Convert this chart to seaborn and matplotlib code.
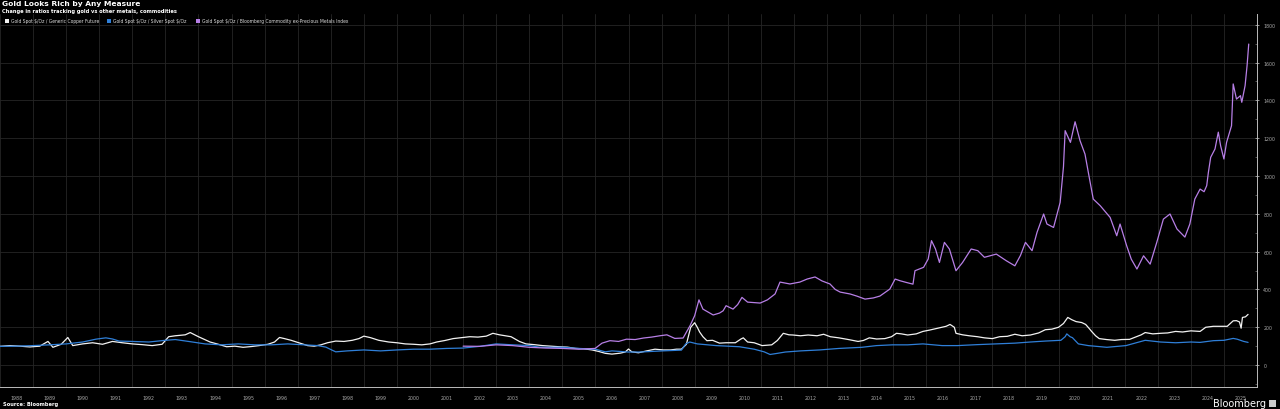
import numpy as np
import pandas as pd
import matplotlib
matplotlib.use("Agg")
import matplotlib.pyplot as plt
from matplotlib.ticker import FixedLocator, NullFormatter, FixedFormatter
import seaborn as sns

# ---------------- data (fractional years, index values) ----------------
copper_years = [1988.0, 1988.3, 1988.6, 1988.9, 1989.2, 1989.45, 1989.6, 1989.85, 1990.05, 1990.2,
                1990.5, 1990.8, 1991.1, 1991.4, 1991.7, 1992.0, 1992.3, 1992.6, 1992.9, 1993.1,
                1993.3, 1993.6, 1993.75, 1994.0, 1994.35, 1994.6, 1994.85, 1995.1, 1995.35, 1995.6,
                1995.83, 1996.1, 1996.3, 1996.45, 1996.6, 1996.8, 1997.0, 1997.3, 1997.5, 1997.7,
                1997.9, 1998.15, 1998.4, 1998.65, 1998.85, 1999.0, 1999.2, 1999.45, 1999.75, 2000.0,
                2000.25, 2000.5, 2000.75, 2001.0, 2001.2, 2001.45, 2001.7, 2001.95, 2002.2, 2002.45,
                2002.7, 2002.9, 2003.1, 2003.45, 2003.7, 2003.9, 2004.15, 2004.4, 2004.65, 2004.9,
                2005.15, 2005.4, 2005.65, 2005.9, 2006.1, 2006.3, 2006.5, 2006.75, 2006.9, 2007.0,
                2007.1, 2007.3, 2007.55, 2007.8, 2008.05, 2008.27, 2008.45, 2008.6, 2008.75, 2008.88,
                2009.0, 2009.08, 2009.15, 2009.25, 2009.37, 2009.54, 2009.75, 2009.95, 2010.23, 2010.4,
                2010.47, 2010.6, 2010.8, 2011.04, 2011.33, 2011.5, 2011.68, 2011.85, 2011.97, 2012.2,
                2012.43, 2012.7, 2012.9, 2013.1, 2013.36, 2013.65, 2013.94, 2014.1, 2014.28, 2014.5,
                2014.75, 2014.95, 2015.1, 2015.25, 2015.44, 2015.7, 2015.9, 2016.1, 2016.37, 2016.6,
                2016.72, 2016.85, 2016.9, 2017.1, 2017.3, 2017.55, 2017.76, 2018.0, 2018.22, 2018.45,
                2018.68, 2018.9, 2019.15, 2019.4, 2019.6, 2019.8, 2020.0, 2020.15, 2020.28, 2020.4,
                2020.53, 2020.7, 2020.82, 2020.92, 2021.0, 2021.12, 2021.23, 2021.45, 2021.7, 2021.9,
                2022.15, 2022.35, 2022.5, 2022.62, 2022.85, 2023.08, 2023.3, 2023.54, 2023.75, 2024.0,
                2024.28, 2024.45, 2024.68, 2024.9, 2025.1, 2025.28, 2025.38, 2025.47, 2025.52, 2025.56,
                2025.65, 2025.73]
copper_vals = [99, 103, 100, 96, 100, 125, 94, 110, 146, 103,
               112, 118, 110, 125, 118, 112, 108, 103, 110, 150,
               155, 160, 172, 150, 122, 110, 97, 100, 94, 98,
               103, 110, 122, 146, 140, 131, 120, 103, 100, 107,
               118, 127, 125, 131, 140, 153, 145, 131, 122, 118,
               112, 110, 107, 112, 122, 130, 140, 145, 150, 148,
               153, 168, 160, 150, 125, 112, 108, 103, 100, 97,
               95, 88, 86, 80, 72, 62, 58, 63, 69, 85,
               70, 65, 75, 84, 80, 80, 84, 84, 110, 200,
               224, 200, 175, 150, 129, 131, 116, 118, 118, 138,
               144, 122, 118, 103, 107, 130, 168, 160, 159, 155,
               159, 155, 163, 150, 144, 135, 125, 130, 144, 138,
               140, 150, 168, 165, 159, 165, 178, 185, 196, 205,
               215, 200, 168, 160, 155, 150, 144, 140, 150, 152,
               163, 155, 159, 170, 187, 190, 200, 220, 252, 240,
               230, 225, 215, 195, 178, 155, 140, 135, 131, 135,
               136, 150, 160, 172, 165, 168, 170, 178, 175, 181,
               178, 200, 205, 205, 205, 234, 235, 228, 195, 252,
               255, 268]

silver_years = [1988.0, 1988.5, 1989.0, 1989.5, 1990.0, 1990.5, 1990.9, 1991.2, 1991.4, 1991.6,
                1992.0, 1992.5, 1993.0, 1993.3, 1993.7, 1994.2, 1994.7, 1995.2, 1995.7, 1996.2,
                1996.7, 1997.2, 1997.6, 1997.85, 1998.05, 1998.15, 1998.5, 1999.0, 1999.5, 2000.0,
                2000.5, 2001.0, 2001.5, 2002.0, 2002.5, 2003.0, 2003.5, 2004.0, 2004.3, 2004.5,
                2005.0, 2005.5, 2006.0, 2006.3, 2006.5, 2007.0, 2007.34, 2008.03, 2008.6, 2008.73,
                2008.85, 2009.08, 2009.65, 2010.35, 2010.8, 2011.1, 2011.28, 2011.5, 2011.74, 2012.2,
                2012.78, 2013.36, 2014.05, 2014.5, 2014.98, 2015.44, 2015.9, 2016.48, 2016.95, 2017.53,
                2018.1, 2018.68, 2019.15, 2019.6, 2020.07, 2020.2, 2020.25, 2020.35, 2020.42, 2020.6,
                2020.9, 2021.46, 2022.04, 2022.62, 2023.08, 2023.54, 2024.0, 2024.28, 2024.68, 2025.0,
                2025.28, 2025.4, 2025.6, 2025.73]
silver_vals = [99, 100, 103, 107, 112, 122, 137, 144, 138, 127,
               125, 122, 131, 135, 125, 112, 107, 112, 107, 107,
               112, 107, 103, 95, 78, 70, 75, 80, 75, 80,
               84, 84, 88, 90, 99, 112, 107, 103, 95, 94,
               94, 88, 84, 70, 75, 69, 69, 75, 79, 112,
               122, 112, 103, 97, 84, 70, 56, 62, 69, 75,
               80, 88, 94, 103, 107, 107, 112, 103, 103, 108,
               112, 116, 122, 127, 131, 150, 165, 150, 145, 112,
               103, 94, 103, 131, 122, 118, 122, 120, 129, 131,
               141, 137, 125, 120]

bcom_years = [2002.0, 2002.5, 2003.0, 2003.5, 2004.0, 2004.5, 2005.0, 2005.5, 2005.99, 2006.2,
              2006.44, 2006.7, 2006.94, 2007.2, 2007.45, 2007.7, 2007.95, 2008.16, 2008.4, 2008.65,
              2008.86, 2009.0, 2009.13, 2009.25, 2009.56, 2009.75, 2009.86, 2009.95, 2010.16, 2010.3,
              2010.43, 2010.6, 2010.98, 2011.2, 2011.43, 2011.58, 2011.88, 2012.18, 2012.4, 2012.64,
              2012.85, 2013.09, 2013.25, 2013.4, 2013.7, 2013.9, 2014.15, 2014.4, 2014.6, 2014.9,
              2015.06, 2015.21, 2015.4, 2015.6, 2015.66, 2015.92, 2016.06, 2016.16, 2016.28, 2016.4,
              2016.55, 2016.7, 2016.9, 2017.1, 2017.36, 2017.56, 2017.76, 2018.12, 2018.42, 2018.68,
              2018.85, 2019.0, 2019.2, 2019.35, 2019.55, 2019.65, 2019.85, 2020.05, 2020.15, 2020.2,
              2020.36, 2020.5, 2020.65, 2020.8, 2020.9, 2021.05, 2021.26, 2021.56, 2021.76, 2021.86,
              2022.06, 2022.2, 2022.37, 2022.57, 2022.77, 2022.97, 2023.17, 2023.37, 2023.58, 2023.82,
              2023.97, 2024.12, 2024.28, 2024.4, 2024.48, 2024.53, 2024.6, 2024.73, 2024.83, 2024.9,
              2025.0, 2025.08, 2025.23, 2025.28, 2025.38, 2025.5, 2025.54, 2025.64, 2025.7, 2025.75]
bcom_vals = [100, 99, 107, 103, 94, 90, 88, 84, 88, 116,
             129, 125, 137, 135, 143, 148, 155, 160, 141, 143,
             208, 261, 345, 296, 265, 275, 287, 314, 296, 320,
             358, 333, 328, 345, 376, 439, 429, 439, 455, 466,
             445, 429, 400, 386, 376, 365, 349, 355, 365, 402,
             455, 446, 437, 428, 499, 517, 561, 658, 614, 543,
             649, 614, 499, 543, 614, 605, 570, 587, 552, 525,
             580, 649, 605, 702, 799, 746, 728, 861, 1050, 1240,
             1178, 1287, 1187, 1116, 1020, 878, 843, 781, 684, 746,
             631, 560, 508, 578, 534, 649, 772, 799, 720, 677,
             746, 878, 931, 917, 949, 1019, 1099, 1143, 1232, 1160,
             1090, 1178, 1266, 1487, 1407, 1425, 1390, 1478, 1584, 1698]

series_names = ["Gold Spot $/Oz / Generic Copper Future",
                "Gold Spot $/Oz / Silver Spot $/Oz",
                "Gold Spot $/Oz / Bloomberg Commodity ex-Precious Metals Index"]
series_colors = ["#f2f2f2", "#2f7fd8", "#b77fe6"]

year_labels = [str(y) for y in range(1988, 2026)]
y_ticks = [0, 200, 400, 600, 800, 1000, 1200, 1400, 1600, 1800]

title = "Gold Looks Rich by Any Measure"
subtitle = "Change in ratios tracking gold vs other metals, commodities"
source = "Source: Bloomberg"

# ---------------- build long-form frame ----------------
df = pd.concat([
    pd.DataFrame({"year": copper_years, "value": copper_vals, "series": series_names[0]}),
    pd.DataFrame({"year": silver_years, "value": silver_vals, "series": series_names[1]}),
    pd.DataFrame({"year": bcom_years, "value": bcom_vals, "series": series_names[2]}),
], ignore_index=True)

# ---------------- style ----------------
sns.set_theme(style="dark")
plt.rcParams["font.family"] = ["DejaVu Sans"]
plt.rcParams["text.parse_math"] = False

W, H = 1280, 410
fig = plt.figure(figsize=(W / 100, H / 100), dpi=100, facecolor="black")
ax_left, ax_right = 0 / W, 1257 / W
ax_bottom, ax_top = 1 - 388 / H, 1 - 15 / H
ax = fig.add_axes([ax_left, ax_bottom, ax_right - ax_left, ax_top - ax_bottom])
ax.set_facecolor("black")

sns.lineplot(data=df, x="year", y="value", hue="series", hue_order=series_names,
             palette=dict(zip(series_names, series_colors)), estimator=None, sort=False,
             linewidth=0.9, legend=False, ax=ax)

ax.set_xlim(1988.0, 2026.0)
ax.set_ylim(-116, 1857)
ax.set_xlabel("")
ax.set_ylabel("")

# x axis: year separators (major) + centred year labels (minor)
ax.xaxis.set_major_locator(FixedLocator(list(range(1988, 2027))))
ax.xaxis.set_major_formatter(NullFormatter())
ax.xaxis.set_minor_locator(FixedLocator([y + 0.5 for y in range(1988, 2026)]))
ax.xaxis.set_minor_formatter(FixedFormatter(year_labels))
ax.tick_params(axis="x", which="major", length=12, width=0.6, color="#262626", direction="out")
ax.tick_params(axis="x", which="minor", length=0, labelsize=3.4, labelcolor="#a8a8a8", pad=6)

# y axis on the right
ax.yaxis.tick_right()
ax.yaxis.set_major_locator(FixedLocator(y_ticks))
ax.yaxis.set_minor_locator(FixedLocator([v + 100 for v in [-200] + y_ticks]))
ax.tick_params(axis="y", which="major", length=3, width=0.6, color="#aaaaaa", direction="inout",
               labelsize=3.4, labelcolor="#a8a8a8", pad=3)
ax.tick_params(axis="y", which="minor", length=1.5, width=0.5, color="#777777", direction="in")

ax.grid(True, which="major", axis="both", color="#262626", linewidth=0.6)
ax.set_axisbelow(True)

for side in ["left", "top"]:
    ax.spines[side].set_visible(False)
ax.spines["bottom"].set_color("#bbbbbb")
ax.spines["bottom"].set_linewidth(0.7)
ax.spines["right"].set_color("#bbbbbb")
ax.spines["right"].set_linewidth(0.7)

# ---------------- texts ----------------
fig.text(2 / W, 1 - 4 / H, title, color="white", fontsize=5.4, fontweight="bold",
         va="center", ha="left")
fig.text(2 / W, 1 - 11 / H, subtitle, color="white", fontsize=3.7, fontweight="bold",
         va="center", ha="left")

# legend row
leg_x = [5, 107, 196]
for name, col, lx in zip(series_names, series_colors, leg_x):
    fig.patches.append(plt.Rectangle((lx / W, 1 - 23.5 / H), 4 / W, 4 / H, transform=fig.transFigure,
                                     facecolor=col, edgecolor="none", figure=fig))
    fig.text((lx + 6) / W, 1 - 21.5 / H, name, color="#dddddd", fontsize=3.25,
             va="center", ha="left")

fig.text(3 / W, 1 - 405 / H, source, color="white", fontsize=3.7, fontweight="bold",
         va="center", ha="left")
fig.text(1266 / W, 1 - 404 / H, "Bloomberg", color="white", fontsize=7.0,
         va="center", ha="right")
fig.patches.append(plt.Rectangle((1269 / W, 1 - 408 / H), 7 / W, 7 / H, transform=fig.transFigure,
                                 facecolor="#cccccc", edgecolor="none", figure=fig))

fig.savefig("out.png", dpi=100, facecolor="black")
